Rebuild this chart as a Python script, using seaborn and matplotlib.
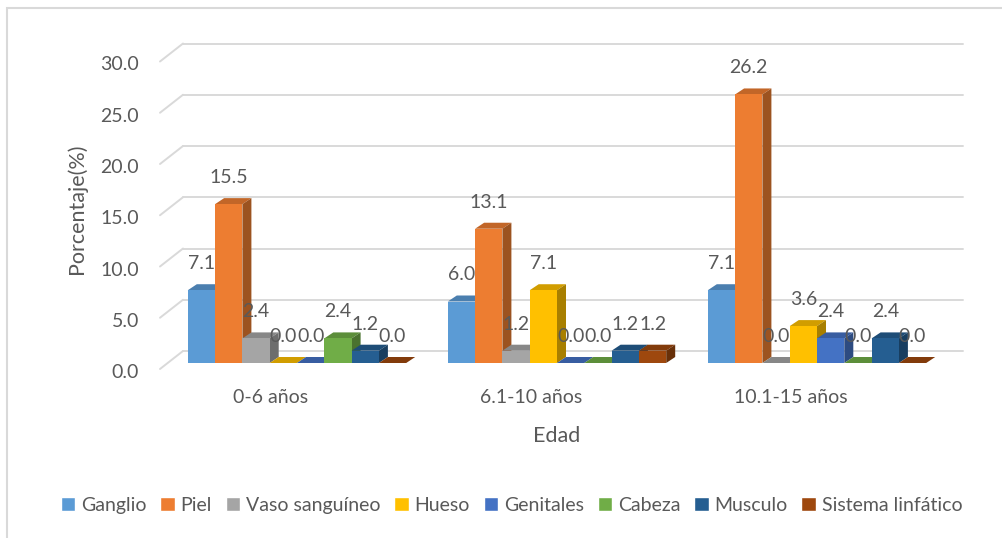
import matplotlib
matplotlib.use("Agg")
import matplotlib.pyplot as plt
import matplotlib.colors as mcolors
from matplotlib.patches import Polygon, Rectangle
from matplotlib.transforms import ScaledTranslation
import seaborn as sns
import pandas as pd

# -------------------------------
# DATA
# -------------------------------
edades = ["0-6 años", "6.1-10 años", "10.1-15 años"]
partes = ["Ganglio", "Piel", "Vaso sanguíneo", "Hueso", "Genitales",
          "Cabeza", "Musculo", "Sistema linfático"]
ganglio = [7.1, 6.0, 7.1]
piel = [15.5, 13.1, 26.2]
vaso = [2.4, 1.2, 0.0]
hueso = [0.0, 7.1, 3.6]
genitales = [0.0, 0.0, 2.4]
cabeza = [2.4, 0.0, 0.0]
musculo = [1.2, 1.2, 2.4]
linfatico = [0.0, 1.2, 0.0]
y_ticks = [0, 5, 10, 15, 20, 25, 30]

colores = ["#5B9BD5", "#ED7D31", "#A5A5A5", "#FFC000", "#4472C4",
           "#70AD47", "#255E91", "#9E480E"]

series = [ganglio, piel, vaso, hueso, genitales, cabeza, musculo, linfatico]
rows = []
for parte, vals in zip(partes, series):
    for edad, v in zip(edades, vals):
        rows.append({"Edad": edad, "Porcentaje": v, "Parte": parte})
df = pd.DataFrame(rows)

# -------------------------------
# PLOT
# -------------------------------
sns.set_theme(style="white")
plt.rcParams["font.family"] = ["Lato", "DejaVu Sans"]
gris = "#595959"
grid_c = "#D9D9D9"
fs = 14

W, H = 1003, 538
fig = plt.figure(figsize=(W / 100, H / 100), dpi=100)
ax = fig.add_axes([167 / W, (H - 363) / H, 780 / W, (363 - 55.5) / H])

sns.barplot(data=df, x="Edad", y="Porcentaje", hue="Parte", hue_order=partes,
            palette=colores, width=0.84, saturation=1, ax=ax, zorder=3)

ax.set_xlim(-0.5, 2.5)
ax.set_ylim(0, 30)
ax.grid(False)
for s in ax.spines.values():
    s.set_visible(False)

# pixel -> data conversion
pos = ax.get_position()
ppx = pos.width * W / 3.0
ppy = pos.height * H / 30.0

# back wall gridlines with perspective diagonal
bdx, bdy = 16 / ppx, 12 / ppy
fdx, fdy = -7 / ppx, -6 / ppy
for v in y_ticks:
    ax.plot([-0.5 + bdx, 2.5 + bdx], [v + bdy, v + bdy], color=grid_c,
            lw=1.4, zorder=0.5, clip_on=False)
    ax.plot([-0.5 + fdx, -0.5 + bdx], [v + fdy, v + bdy], color=grid_c,
            lw=1.4, zorder=0.5, clip_on=False)

# 3D faces on bars
ddx, ddy = 9 / ppx, 6 / ppy
bars = [p for p in ax.patches if isinstance(p, Rectangle) and p.get_width() > 0]
bars = [p for p in bars if p.get_x() > -1]
bars.sort(key=lambda p: p.get_x())
for i, p in enumerate(bars):
    x0, w, h = p.get_x(), p.get_width(), p.get_height()
    c = mcolors.to_rgb(p.get_facecolor())
    top_c = tuple(k * 0.82 for k in c)
    side_c = tuple(k * 0.66 for k in c)
    z = 3 + i * 0.01
    p.set_zorder(z + 0.005)
    p.set_edgecolor("none")
    top = Polygon([(x0, h), (x0 + w, h), (x0 + w + ddx, h + ddy), (x0 + ddx, h + ddy)],
                  closed=True, facecolor=top_c, edgecolor="none", zorder=z, clip_on=False)
    side = Polygon([(x0 + w, 0), (x0 + w, h), (x0 + w + ddx, h + ddy), (x0 + w + ddx, ddy)],
                   closed=True, facecolor=side_c, edgecolor="none", zorder=z, clip_on=False)
    ax.add_patch(top)
    ax.add_patch(side)

for cont in ax.containers:
    labels = ax.bar_label(cont, fmt="%.1f", padding=13, fontsize=fs, color=gris)
    for t in labels:
        t.set_zorder(10)

# ticks
ax.set_yticks(y_ticks)
ax.set_yticklabels([f"{v:.1f}" for v in y_ticks])
ax.tick_params(axis="y", length=0, pad=20, labelsize=fs, labelcolor=gris)
off = ScaledTranslation(0, -8 / 100, fig.dpi_scale_trans)
for lab in ax.get_yticklabels():
    lab.set_transform(lab.get_transform() + off)

ax.set_xticks([i - 0.1 for i in range(len(edades))])
ax.set_xticklabels(edades)
ax.tick_params(axis="x", length=0, pad=19, labelsize=fs, labelcolor=gris)

ax.set_xlabel("Edad", fontsize=15.5, color=gris, labelpad=14)
ax.set_ylabel("Porcentaje(%)", fontsize=15.5, color=gris, labelpad=10)

sns.move_legend(ax, "center", bbox_to_anchor=(0.51, 0.061),
                bbox_transform=fig.transFigure, ncol=8, frameon=False,
                title=None, fontsize=fs, handlelength=0.75, handleheight=0.75,
                handletextpad=0.3, columnspacing=0.7, labelcolor=gris)

# chart border
fig.add_artist(Rectangle((7 / W, -0.05), 1.1, (H - 8) / H + 0.05, transform=fig.transFigure,
                         fill=False, edgecolor=grid_c, lw=1.5))

fig.savefig("out.png", dpi=100)
plt.close()
